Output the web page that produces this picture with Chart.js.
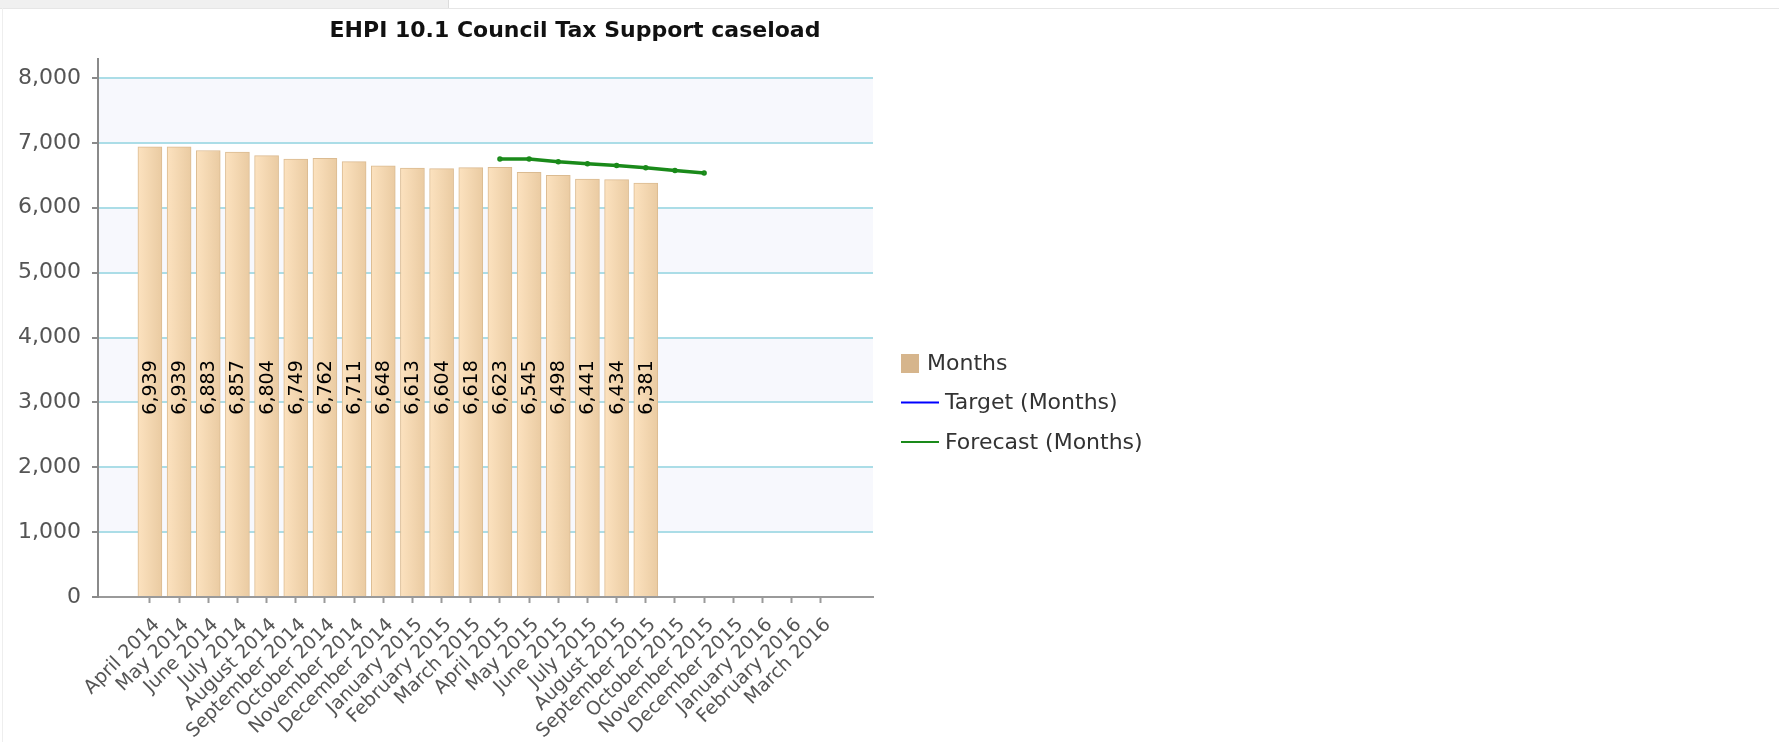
<!DOCTYPE html>
<html>
<head>
<meta charset="utf-8">
<script src="https://cdn.jsdelivr.net/npm/chart.js@4.4.1/dist/chart.umd.min.js"></script>
<style>
html,body{margin:0;padding:0;background:#fff;width:1779px;height:742px;overflow:hidden}
#topbar{position:absolute;left:0;top:0;width:448px;height:8px;background:#f0f0f0;border-right:1px solid #dcdcdc}
#topline{position:absolute;left:0;top:8px;width:1779px;height:1px;background:#e6e6e6}
#leftline{position:absolute;left:2px;top:8px;width:1px;height:734px;background:#eeeeee}
#wrap{position:absolute;left:0;top:0;width:1150px;height:742px}
</style>
</head>
<body>
<div id="topbar"></div><div id="topline"></div><div id="leftline"></div>
<div id="wrap"><canvas id="c"></canvas></div>
<script>
const chartTitle = 'EHPI 10.1 Council Tax Support caseload';
const categories = ['April 2014','May 2014','June 2014','July 2014','August 2014','September 2014','October 2014','November 2014','December 2014','January 2015','February 2015','March 2015','April 2015','May 2015','June 2015','July 2015','August 2015','September 2015','October 2015','November 2015','December 2015','January 2016','February 2016','March 2016'];
const monthsValues = [6939, 6939, 6883, 6857, 6804, 6749, 6762, 6711, 6648, 6613, 6604, 6618, 6623, 6545, 6498, 6441, 6434, 6381];
const targetValues = [];
const forecastStartIndex = 12;
const forecastValues = [6750, 6750, 6710, 6680, 6650, 6615, 6575, 6535];
const yTickValues = [0, 1000, 2000, 3000, 4000, 5000, 6000, 7000, 8000];
const shadedBands = [[1000, 2000], [3000, 4000], [5000, 6000], [7000, 8000]];
const labelAnchorValue = 3230;

const FONT = "'DejaVu Sans', Verdana, sans-serif";
const fmt = v => Number(v).toLocaleString('en-US');

const bandsPlugin = {
  id: 'bands',
  beforeDraw(chart) {
    const {ctx, chartArea: a, scales: {y}} = chart;
    ctx.save();
    ctx.fillStyle = '#f7f8fd';
    shadedBands.forEach(([lo, hi]) => {
      const t = y.getPixelForValue(hi), b = y.getPixelForValue(lo);
      ctx.fillRect(a.left, t, a.right - a.left, b - t);
    });
    ctx.restore();
  }
};

const labelsPlugin = {
  id: 'barLabels',
  afterDatasetsDraw(chart) {
    const ctx = chart.ctx;
    const meta = chart.getDatasetMeta(0);
    const cy = chart.scales.y.getPixelForValue(labelAnchorValue);
    ctx.save();
    ctx.font = "19px " + FONT;
    ctx.fillStyle = '#000';
    ctx.textAlign = 'center';
    ctx.textBaseline = 'middle';
    meta.data.forEach((el, i) => {
      const v = chart.data.datasets[0].data[i].y;
      ctx.save();
      ctx.translate(el.x, cy);
      ctx.rotate(-Math.PI / 2);
      ctx.fillText(fmt(v), 0, 1);
      ctx.restore();
    });
    ctx.restore();
  }
};

const titleLegendPlugin = {
  id: 'titleLegend',
  afterDraw(chart) {
    const ctx = chart.ctx;
    ctx.save();
    ctx.font = "bold 22px 'DejaVu Sans', sans-serif";
    ctx.fillStyle = '#111';
    ctx.textAlign = 'center';
    ctx.textBaseline = 'middle';
    ctx.fillText(chartTitle, chart.width / 2, 31);

    const ds = chart.data.datasets;
    const left = chart.chartArea.right + 28;
    const top = 363, gap = 39.5;
    ctx.font = "22px " + FONT;
    ctx.textAlign = 'left';
    ds.forEach((d, i) => {
      const cy = top + i * gap;
      if (d.type === 'bar') {
        ctx.fillStyle = d.legendColor;
        ctx.fillRect(left, cy - 9, 18, 19);
        ctx.fillStyle = '#333';
        ctx.fillText(d.label, left + 26, cy + 1);
      } else {
        ctx.strokeStyle = d.borderColor;
        ctx.lineWidth = 2;
        ctx.beginPath();
        ctx.moveTo(left, cy);
        ctx.lineTo(left + 38, cy);
        ctx.stroke();
        ctx.fillStyle = '#333';
        ctx.fillText(d.label, left + 44, cy + 1);
      }
    });
    ctx.restore();
  }
};

function barFill(c) {
  const chart = c.chart, xs = chart.scales && chart.scales.x;
  if (c.type !== 'data' || !xs || !c.raw) return '#f5d7ae';
  const cx = xs.getPixelForValue(c.raw.x);
  if (!Number.isFinite(cx)) return '#f5d7ae';
  const g = chart.ctx.createLinearGradient(cx - 12, 0, cx + 12, 0);
  g.addColorStop(0, '#fce2bf');
  g.addColorStop(1, '#eacba2');
  return g;
}

new Chart(document.getElementById('c'), {
  data: {
    datasets: [
      {
        type: 'bar',
        label: 'Months',
        order: 3,
        legendColor: '#d6b58c',
        data: monthsValues.map((v, i) => ({x: i, y: v})),
        barThickness: 24,
        borderWidth: 1,
        borderColor: '#dbbb91',
        backgroundColor: barFill
      },
      {
        type: 'line',
        label: 'Target (Months)',
        order: 2,
        data: targetValues,
        borderColor: '#0000ff',
        borderWidth: 2,
        pointRadius: 0
      },
      {
        type: 'line',
        label: 'Forecast (Months)',
        order: 1,
        data: forecastValues.map((v, i) => ({x: forecastStartIndex + i, y: v})),
        borderColor: '#1a8a1a',
        backgroundColor: '#1a8a1a',
        borderWidth: 3.5,
        pointRadius: 1,
        pointHoverRadius: 1,
        tension: 0,
        fill: false
      }
    ]
  },
  options: {
    responsive: true,
    maintainAspectRatio: false,
    animation: false,
    events: [],
    layout: {padding: {top: 59, right: 277, left: 0, bottom: 0}},
    plugins: {legend: {display: false}, title: {display: false}, tooltip: {enabled: false}},
    scales: {
      x: {
        type: 'linear',
        offset: false,
        min: -1.78,
        max: 24.79,
        afterBuildTicks: s => { s.ticks = categories.map((_, i) => ({value: i})); },
        afterFit: s => { s.height = 145; },
        ticks: {
          autoSkip: false,
          maxRotation: 45,
          minRotation: 45,
          padding: 11,
          labelOffset: 7,
          color: '#555',
          font: {family: FONT, size: 19},
          callback: v => categories[v] ?? ''
        },
        grid: {offset: false, drawOnChartArea: false, drawTicks: true, tickLength: 6, tickColor: '#9a9a9a', tickWidth: 2},
        border: {display: true, color: '#9a9a9a', width: 2}
      },
      y: {
        min: 0,
        max: 8293,
        afterBuildTicks: s => { s.ticks = yTickValues.map(v => ({value: v})); },
        afterFit: s => { s.width = 98; },
        ticks: {
          padding: 11,
          color: '#555',
          font: {family: FONT, size: 22},
          callback: v => fmt(v)
        },
        grid: {color: '#abdde7', lineWidth: 2, tickLength: 6, tickColor: '#8a8a8a', tickWidth: 2},
        border: {display: true, color: '#8a8a8a', width: 2}
      }
    }
  },
  plugins: [bandsPlugin, labelsPlugin, titleLegendPlugin]
});
</script>
</body>
</html>
